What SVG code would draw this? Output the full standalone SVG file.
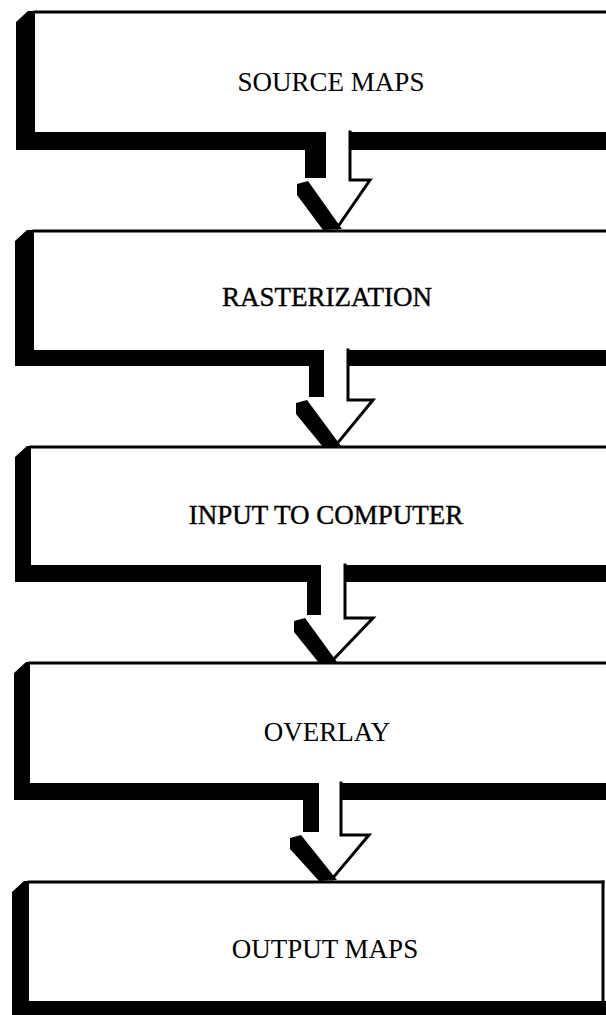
<svg xmlns="http://www.w3.org/2000/svg" width="606" height="1015" viewBox="0 0 606 1015">
<style>
.blk{fill:#000;stroke:none}
.ln{stroke:#000;stroke-width:3;fill:none;stroke-linecap:square}
.lbl{font-family:"Liberation Serif","Times New Roman",serif;font-size:27px;text-anchor:middle;fill:#000}
.hv{stroke:#000;stroke-width:0.4}
</style>
<rect width="606" height="1015" fill="#fff"/>
<g id="node-source-maps">
<polygon class="blk" points="16,22 28,11 35,11 35,132 326,132 326,150 16,150"/>
<rect class="blk" x="349" y="132" width="260" height="18"/>
<line class="ln" x1="35" y1="12" x2="610" y2="12"/>
<text class="lbl" x="331" y="91">SOURCE MAPS</text>
</g>
<g id="node-rasterization">
<polygon class="blk" points="15,241 27,230 34,230 34,350 324,350 324,366 15,366"/>
<rect class="blk" x="347" y="350" width="262" height="16"/>
<line class="ln" x1="34" y1="231" x2="610" y2="231"/>
<text class="lbl hv" x="327" y="306">RASTERIZATION</text>
</g>
<g id="node-input">
<polygon class="blk" points="15,457 27,446 31,446 31,565 321,565 321,582 15,582"/>
<rect class="blk" x="344" y="565" width="265" height="17"/>
<line class="ln" x1="31" y1="447" x2="610" y2="447"/>
<text class="lbl hv" x="326" y="524">INPUT TO COMPUTER</text>
</g>
<g id="node-overlay">
<polygon class="blk" points="14,673 26,662 30,662 30,783 319,783 319,800 14,800"/>
<rect class="blk" x="340" y="783" width="269" height="17"/>
<line class="ln" x1="30" y1="663" x2="610" y2="663"/>
<text class="lbl" x="327" y="741">OVERLAY</text>
</g>
<g id="node-output-maps">
<polygon class="blk" points="12,892 24,881 29,881 29,1001 606,1001 606,1015 12,1015"/>
<line class="ln" x1="29" y1="882" x2="603" y2="882"/>
<line class="ln" x1="603" y1="882" x2="603" y2="1001"/>
<text class="lbl" x="325" y="958">OUTPUT MAPS</text>
</g>
<g id="connectors">
<g id="arrow1">
<rect class="blk" x="305" y="132" width="21" height="46"/>
<polyline class="ln" points="350,132 350,180 370,180 337,228"/>
<polygon class="blk" points="297,184 308,181 342,229 323,230 297,195"/>
</g>
<g id="arrow2">
<rect class="blk" x="309" y="350" width="15" height="47"/>
<polyline class="ln" points="348,350 348,400 373,400 336,445"/>
<polygon class="blk" points="296,403 307,400 341,446 323,447 296,414"/>
</g>
<g id="arrow3">
<rect class="blk" x="307" y="565" width="14" height="50"/>
<polyline class="ln" points="345,565 345,618 373,618 332,661"/>
<polygon class="blk" points="294,621 305,618 337,662 319,663 294,632"/>
</g>
<g id="arrow4">
<rect class="blk" x="303" y="783" width="16" height="49"/>
<polyline class="ln" points="341,783 341,835 369,835 332,879"/>
<polygon class="blk" points="290,838 301,835 337,880 319,881 290,849"/>
</g>
</g>
</svg>
